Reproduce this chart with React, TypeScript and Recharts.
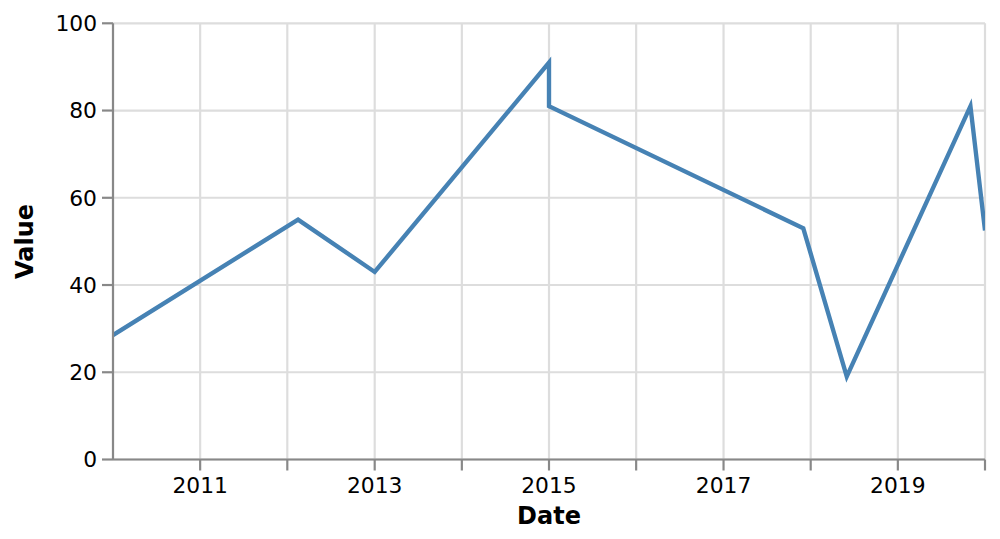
import React from 'react';
import { LineChart, Line, XAxis, YAxis, CartesianGrid, Label } from 'recharts';

const dates = ['2010-01-01', '2012-02-15', '2013-01-01', '2015-01-01', '2015-01-01', '2017-12-01', '2018-06-01', '2019-11-01', '2020-01-01'];
const values = [28.5, 55, 43, 91, 81, 53, 19, 81, 52.5];
const domainYears = [2010, 2020];
const yearTicks = [2011, 2012, 2013, 2014, 2015, 2016, 2017, 2018, 2019, 2020];
const labeledYears = [2011, 2013, 2015, 2017, 2019];
const valueTicks = [0, 20, 40, 60, 80, 100];

const data = dates.map((d, i) => ({ t: new Date(d).getTime(), value: values[i] }));
const xTicks = yearTicks.map((y) => Date.UTC(y, 0, 1));
const xDomain = domainYears.map((y) => Date.UTC(y, 0, 1));

const FONT = '"DejaVu Sans", sans-serif';
const AXIS = '#888';

const YTitle = (props: any) => {
  const vb = props.viewBox || {};
  const x = 33;
  const y = vb.y + vb.height / 2;
  return (
    <text x={x} y={y} transform={`rotate(-90 ${x} ${y})`} textAnchor="middle" fontFamily={FONT} fontWeight="bold" fontSize={24} fill="#000">
      Value
    </text>
  );
};

const XTitle = (props: any) => {
  const vb = props.viewBox || {};
  const x = vb.x + vb.width / 2;
  return (
    <text x={x} y={524} textAnchor="middle" fontFamily={FONT} fontWeight="bold" fontSize={24} fill="#000">
      Date
    </text>
  );
};

export default function App() {
  return (
    <div style={{ position: 'absolute', left: 0, top: 0, width: 1000, height: 539, background: '#fff' }}>
      <LineChart width={1000} height={539} data={data} margin={{ top: 23.3, right: 15, left: 0, bottom: 0 }}>
        <CartesianGrid stroke="#ddd" strokeWidth={2.18} />
        <XAxis
          dataKey="t"
          type="number"
          domain={xDomain}
          ticks={xTicks}
          allowDataOverflow
          height={79.5}
          tickSize={11}
          tickMargin={7}
          interval={0}
          tickFormatter={(v: number) => {
            const y = new Date(v).getUTCFullYear();
            return labeledYears.includes(y) ? String(y) : '';
          }}
          tick={{ fontFamily: FONT, fontSize: 21.8, fill: '#000' }}
          axisLine={{ stroke: AXIS, strokeWidth: 2.18 }}
          tickLine={{ stroke: AXIS, strokeWidth: 2.18 }}
        >
          <Label content={<XTitle />} />
        </XAxis>
        <YAxis
          type="number"
          domain={[0, 100]}
          ticks={valueTicks}
          width={113}
          interval={0}
          tickSize={11}
          tickMargin={5}
          tick={{ fontFamily: FONT, fontSize: 21.8, fill: '#000' }}
          axisLine={{ stroke: AXIS, strokeWidth: 2.18 }}
          tickLine={{ stroke: AXIS, strokeWidth: 2.18 }}
        >
          <Label content={<YTitle />} />
        </YAxis>
        <Line type="linear" dataKey="value" stroke="#4682b4" strokeWidth={4.36} dot={false} activeDot={false} isAnimationActive={false} />
      </LineChart>
    </div>
  );
}
